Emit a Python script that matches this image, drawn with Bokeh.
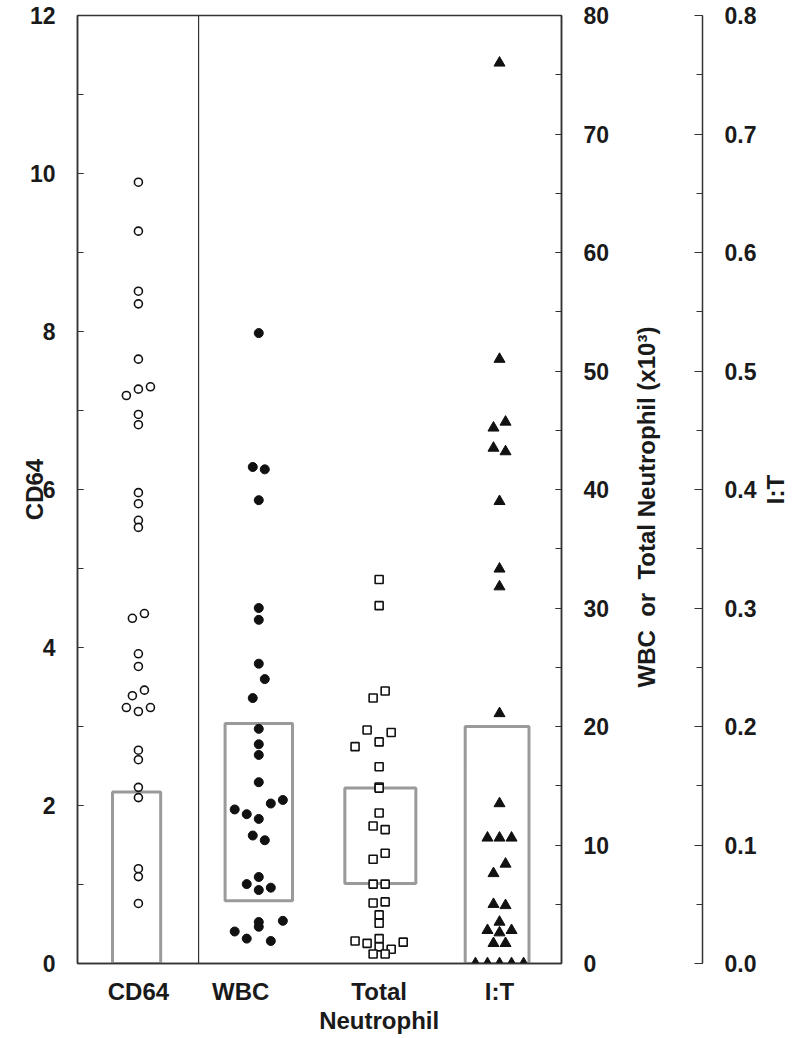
import math
from bokeh.plotting import figure
from bokeh.layouts import row
from bokeh.models import (Range1d, LinearAxis, SingleIntervalTicker, FixedTicker,
                          Span, NumeralTickFormatter, Title)
from bokeh.embed import file_html
from bokeh.resources import INLINE

# ---------------- data ----------------
categories = ["CD64", "WBC", "Total\nNeutrophil", "I:T"]
cat_x = [1.0, 2.0, 3.0, 4.0]
label_x = [1.0, 1.85, 3.0, 4.0]

cd64_vals = [9.89, 9.27, 8.51, 8.35, 7.65, 7.30, 7.27, 7.19, 6.95, 6.82,
             5.96, 5.82, 5.61, 5.52, 4.43, 4.37, 3.92, 3.76, 3.46, 3.39,
             3.24, 3.19, 3.24, 2.70, 2.58, 2.23, 2.10, 1.20, 1.10, 0.76]
cd64_jit = [0, 0, 0, 0, 0, 1, 0, -1, 0, 0,
            0, 0, 0, 0, 0.5, -0.5, 0, 0, 0.5, -0.5,
            -1, 0, 1, 0, 0, 0, 0, 0, 0, 0]

wbc_vals = [53.2, 41.9, 41.7, 39.1, 30.0, 29.0, 25.3, 24.0, 22.4, 19.8,
            18.5, 17.6, 15.3, 13.8, 13.5, 13.0, 12.6, 12.2, 10.8, 10.4,
            7.3, 6.7, 6.4, 6.2, 3.6, 3.5, 3.1, 2.7, 2.1, 1.9]
wbc_jit = [0, -0.5, 0.5, 0, 0, 0, 0, 0.5, -0.5, 0,
           0, 0, 0, 2, 1, -2, -1, 0, -0.5, 0.5,
           0, -1, 1, 0, 2, 0, 0, -2, -1, 1]

tn_vals = [32.4, 30.2, 23.0, 22.4, 19.7, 19.5, 18.7, 18.3, 16.6, 14.9,
           14.8, 12.7, 11.6, 11.3, 9.3, 8.8, 6.7, 6.7, 5.1, 5.2,
           4.1, 3.4, 2.1, 1.9, 1.7, 1.8, 1.4, 1.2, 0.8, 0.8]
tn_jit = [0, 0, 0.5, -0.5, -1, 1, 0, -2, 0, 0,
          0, 0, -0.5, 0.5, 0.5, -0.5, -0.5, 0.5, -0.5, 0.5,
          0, 0, 0, -2, -1, 2, 0, 1, -0.5, 0.5]

it_vals = [0.760, 0.510, 0.457, 0.452, 0.435, 0.432, 0.390, 0.333, 0.318, 0.211,
           0.135, 0.106, 0.106, 0.106, 0.084, 0.076, 0.050, 0.049, 0.035,
           0.028, 0.026, 0.028, 0.017, 0.017, 0.0, 0.0, 0.0, 0.0, 0.0]
it_jit = [0, 0, 0.5, -0.5, -0.5, 0.5, 0, 0, 0, 0,
          0, -1, 0, 1, 0.5, -0.5, -0.5, 0.5, 0,
          -1, 0, 1, -0.5, 0.5, -2, -1, 0, 1, 2]

box_center = [0.985, 2.0, 3.01, 3.98]
box_width = [0.40, 0.56, 0.59, 0.53]
box_lo = [0.0, 5.3, 6.75, 0.0]
box_hi = [2.17, 20.25, 14.8, 0.20]
box_range = ["default", "wbc", "wbc", "it"]

left_title = "CD64"
right_title = "WBC\u00a0\u00a0or\u00a0\u00a0Total Neutrophil (x10\u00b3)"
it_title = "I:T"

JIT = 0.1
FONT = "Liberation Sans"
TXT = "#1a1a1a"
LINE = "#333333"
BOX = "#9a9a9a"
H = 1038
TOP, BOTTOM = 15, 75


def clean(fig):
    fig.xgrid.visible = False
    fig.ygrid.visible = False
    fig.background_fill_color = "white"
    fig.border_fill_color = "white"


def style_axis(ax, tick_in, minor_in, standoff, size="23px"):
    ax.major_tick_in = tick_in
    ax.major_tick_out = 0
    ax.minor_tick_in = minor_in
    ax.minor_tick_out = 0
    ax.major_tick_line_color = LINE
    ax.minor_tick_line_color = LINE
    ax.major_tick_line_width = 1.2
    ax.minor_tick_line_width = 1.2
    ax.axis_line_color = LINE
    ax.axis_line_width = 1.5
    ax.major_label_standoff = standoff
    ax.major_label_text_font = FONT
    ax.major_label_text_font_style = "bold"
    ax.major_label_text_font_size = size
    ax.major_label_text_color = TXT


def make_title(text, align, offset):
    return Title(text=text, align=align, offset=offset, standoff=0,
                 vertical_align="middle", text_font=FONT, text_font_style="bold",
                 text_font_size="24px", text_color=TXT)


# ---------------- main panel ----------------
p = figure(width=630, height=H, output_backend="svg", toolbar_location=None,
           x_range=Range1d(0.494, 4.515), y_range=Range1d(0, 12),
           min_border_left=77, min_border_right=69, min_border_top=TOP,
           min_border_bottom=BOTTOM)
p.extra_y_ranges = {"wbc": Range1d(0, 80), "it": Range1d(0, 0.8)}
clean(p)
p.outline_line_color = LINE
p.outline_line_width = 1.5

# left CD64 axis
lax = p.yaxis[0]
lax.ticker = SingleIntervalTicker(interval=2, num_minor_ticks=2)
style_axis(lax, 6, 6, 22)
lax.axis_label = left_title
lax.axis_label_standoff = -21
lax.axis_label_text_font = FONT
lax.axis_label_text_font_style = "bold"
lax.axis_label_text_font_size = "24px"
lax.axis_label_text_color = TXT

# right WBC / Total Neutrophil axis
wax = LinearAxis(y_range_name="wbc",
                 ticker=SingleIntervalTicker(interval=10, num_minor_ticks=2))
style_axis(wax, 6, 6, 22)
p.add_layout(wax, "right")

# bottom category axis
bax = p.xaxis[0]
bax.ticker = FixedTicker(ticks=label_x)
bax.major_label_overrides = {float(x): c for x, c in zip(label_x, categories)}
style_axis(bax, 0, 0, 14, size="24px")
bax.major_label_text_line_height = 1.1
bax.minor_tick_line_color = None
bax.major_tick_line_color = None

# separator between CD64 and the others
p.add_layout(Span(location=1.5, dimension="height", line_color=LINE, line_width=1.2))

# boxes
for c, w, lo, hi, rn in zip(box_center, box_width, box_lo, box_hi, box_range):
    p.quad(left=c - w / 2, right=c + w / 2, bottom=lo, top=hi, y_range_name=rn,
           fill_color=None, line_color=BOX, line_width=3)


def pts(cx, jit):
    return [cx + j * JIT for j in jit]


p.scatter(pts(cat_x[0], cd64_jit), cd64_vals, marker="circle", size=8,
          fill_color="white", line_color="#111111", line_width=1.6)
p.scatter(pts(cat_x[1], wbc_jit), wbc_vals, marker="circle", size=9,
          fill_color="#111111", line_color="#111111", y_range_name="wbc")
p.scatter(pts(cat_x[2], tn_jit), tn_vals, marker="square", size=8,
          fill_color="white", line_color="#111111", line_width=1.6, y_range_name="wbc")
p.scatter(pts(cat_x[3], it_jit), it_vals, marker="triangle", size=11,
          fill_color="#111111", line_color="#111111", y_range_name="it")

# ---------------- WBC title + I:T axis ----------------
q = figure(width=130, height=H, output_backend="svg", toolbar_location=None,
           x_range=Range1d(0, 1), y_range=Range1d(0, 0.8),
           x_axis_location=None, y_axis_location="right",
           min_border_left=30, min_border_right=58, min_border_top=TOP,
           min_border_bottom=BOTTOM)
clean(q)
q.outline_line_color = None
iax = q.yaxis[0]
iax.ticker = SingleIntervalTicker(interval=0.1, num_minor_ticks=2)
iax.formatter = NumeralTickFormatter(format="0.0")
style_axis(iax, 8, 6, 22)
q.add_layout(make_title(right_title, "left", 276), "left")

# ---------------- I:T title ----------------
r = figure(width=40, height=H, output_backend="svg", toolbar_location=None,
           x_range=Range1d(0, 1), y_range=Range1d(0, 1),
           x_axis_location=None, y_axis_location=None,
           min_border_left=0, min_border_right=0, min_border_top=TOP,
           min_border_bottom=BOTTOM)
clean(r)
r.outline_line_color = None
r.add_layout(make_title(it_title, "center", 0), "left")

layout = row(p, q, r, spacing=0)
open("out.html", "w").write(file_html(layout, INLINE))
